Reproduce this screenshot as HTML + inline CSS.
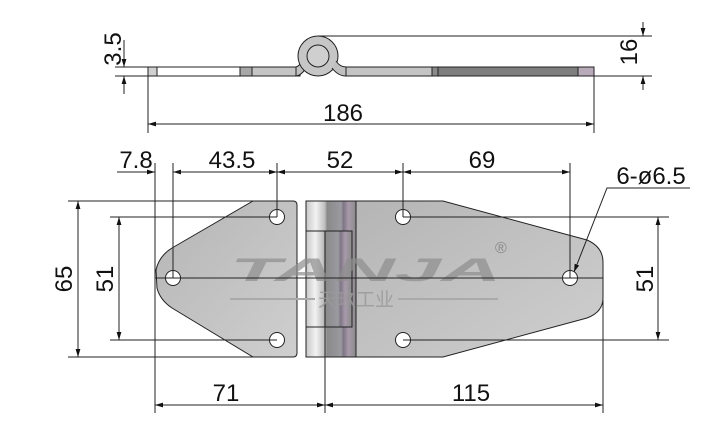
<!DOCTYPE html>
<html><head><meta charset="utf-8"><style>
html,body{margin:0;padding:0;background:#fff;width:711px;height:439px;overflow:hidden}
svg{display:block}
text{font-family:"Liberation Sans","Noto Sans CJK SC",sans-serif;fill:#111}
</style></head><body>
<svg width="711" height="439" viewBox="0 0 711 439" xmlns="http://www.w3.org/2000/svg">
<defs>
<marker id="a" viewBox="0 0 10 6" refX="10" refY="3" markerWidth="8" markerHeight="5" orient="auto-start-reverse"><path d="M0,0 L10,3 L0,6 z" fill="#111"/></marker>
<linearGradient id="pin" x1="0" x2="1" y1="0" y2="0">
<stop offset="0" stop-color="#c8c8c8"/><stop offset="0.2" stop-color="#f2f2f2"/><stop offset="0.38" stop-color="#bdbdbd"/><stop offset="0.42" stop-color="#8a8a8a"/><stop offset="0.7" stop-color="#9a9aa0"/><stop offset="0.75" stop-color="#7e7585"/><stop offset="0.85" stop-color="#a89aaa"/><stop offset="1" stop-color="#8a8a8a"/>
</linearGradient>
<linearGradient id="pl" x1="0" x2="1" y1="0" y2="1"><stop offset="0" stop-color="#b5b5b5"/><stop offset="1" stop-color="#cfcfcf"/></linearGradient>
</defs>
<g stroke="#222" stroke-width="1" fill="none">
<rect x="148" y="67" width="152" height="9" fill="#fff"/>
<rect x="148" y="67" width="9" height="9" fill="#d0d0d0"/>
<rect x="240" y="67" width="12" height="9" fill="#a8a8a8"/>
<rect x="252" y="67" width="44" height="9" fill="#c4c4c4"/>
<path d="M296,67 Q300,66 304,58 L308,64 Q303,75 296,76 z" fill="#c0c0c0"/>
<circle cx="318" cy="56" r="20" fill="#c6c6c6"/>
<circle cx="318" cy="56" r="11" fill="#cfcfcf"/>
<path d="M332,68 Q338,76 346,76 L346,67 Q340,67 336,61" fill="#c0c0c0"/>
<rect x="346" y="67" width="86" height="9" fill="#c4c4c4"/>
<rect x="432" y="67" width="6" height="9" fill="#8a8a8a"/>
<rect x="438" y="67" width="140" height="9" fill="#7e7e7e"/>
<rect x="578" y="67" width="16" height="9" fill="#b8aab8"/>
<line x1="115" y1="67" x2="148" y2="67"/><line x1="115" y1="76" x2="148" y2="76"/>
<line x1="124" y1="40" x2="124" y2="67" marker-end="url(#a)"/><line x1="124" y1="94" x2="124" y2="76" marker-end="url(#a)"/>
<line x1="318" y1="36" x2="652" y2="36"/><line x1="594" y1="76" x2="652" y2="76"/>
<line x1="643" y1="22" x2="643" y2="36" marker-end="url(#a)"/><line x1="643" y1="90" x2="643" y2="76" marker-end="url(#a)"/>
<line x1="148" y1="76" x2="148" y2="133"/><line x1="594" y1="76" x2="594" y2="133"/>
<line x1="148" y1="124" x2="594" y2="124" marker-start="url(#a)" marker-end="url(#a)"/>
<path d="M253,201 L293,201 Q297,201 297,205 L297,353 Q297,357 293,357 L253,357 L172,308 Q160,300 157,288 L156,270 Q159,256 172,248 Z" fill="url(#pl)"/>
<rect x="306" y="201" width="50" height="156" fill="url(#pin)"/>
<rect x="306" y="231" width="46" height="96" fill="url(#pin)"/>
<line x1="325" y1="231" x2="325" y2="327"/>
<path d="M356,201 L443,201 L587,240 Q603,247 603,262 L603,298 Q603,312 587,318 L443,357 L356,357 Z" fill="url(#pl)"/>
<g fill="#fff">
<circle cx="277" cy="217" r="7.5"/><circle cx="277" cy="340" r="7.5"/><circle cx="173" cy="278" r="7.5"/>
<circle cx="403" cy="217" r="7.5"/><circle cx="403" cy="340" r="7.5"/><circle cx="570" cy="278" r="7.5"/>
</g>
</g>
<text transform="translate(230,281) scale(2.6,1)" font-size="32" font-style="italic" font-weight="bold" opacity="0.7" style="fill:#8e8e8e">TANJA</text>
<text x="318" y="306" font-size="19" opacity="0.85" style="fill:#9a9a9a">天玖工业</text>
<line x1="230" y1="299" x2="315" y2="299" stroke="#aaa" stroke-width="2"/>
<line x1="398" y1="299" x2="498" y2="299" stroke="#aaa" stroke-width="2"/>
<text x="495" y="253" font-size="16" style="fill:#888">®</text>
<g stroke="#222" stroke-width="1" fill="none">
<line x1="155" y1="278" x2="603" y2="278"/>
<line x1="155" y1="163" x2="155" y2="413"/><line x1="173" y1="163" x2="173" y2="278"/>
<line x1="277" y1="163" x2="277" y2="217"/><line x1="403" y1="163" x2="403" y2="217"/>
<line x1="570" y1="163" x2="570" y2="278"/><line x1="325" y1="327" x2="325" y2="413"/>
<line x1="603" y1="300" x2="603" y2="413"/>
<line x1="117" y1="172" x2="155" y2="172" marker-end="url(#a)"/>
<line x1="190" y1="172" x2="173" y2="172" marker-end="url(#a)"/>
<line x1="173" y1="172" x2="277" y2="172" marker-end="url(#a)"/>
<line x1="277" y1="172" x2="403" y2="172" marker-start="url(#a)" marker-end="url(#a)"/>
<line x1="403" y1="172" x2="570" y2="172" marker-start="url(#a)" marker-end="url(#a)"/>
<line x1="155" y1="405" x2="325" y2="405" marker-start="url(#a)" marker-end="url(#a)"/>
<line x1="325" y1="405" x2="603" y2="405" marker-start="url(#a)" marker-end="url(#a)"/>
<line x1="68" y1="201" x2="253" y2="201"/><line x1="68" y1="357" x2="253" y2="357"/>
<line x1="110" y1="217" x2="277" y2="217"/><line x1="110" y1="340" x2="277" y2="340"/>
<line x1="403" y1="217" x2="669" y2="217"/><line x1="403" y1="340" x2="669" y2="340"/>
<line x1="78" y1="201" x2="78" y2="357" marker-start="url(#a)" marker-end="url(#a)"/>
<line x1="119" y1="217" x2="119" y2="340" marker-start="url(#a)" marker-end="url(#a)"/>
<line x1="658" y1="217" x2="658" y2="340" marker-start="url(#a)" marker-end="url(#a)"/>
<polyline points="690,188 607,188 574,272" marker-end="url(#a)"/>
</g>
<g font-size="24">
<text x="343" y="121" text-anchor="middle">186</text>
<text x="136" y="168" text-anchor="middle">7.8</text>
<text x="232" y="168" text-anchor="middle">43.5</text>
<text x="340" y="168" text-anchor="middle">52</text>
<text x="482" y="168" text-anchor="middle">69</text>
<text x="651" y="184" text-anchor="middle">6-ø6.5</text>
<text x="226" y="401" text-anchor="middle">71</text>
<text x="471" y="401" text-anchor="middle">115</text>
<text transform="translate(72,279) rotate(-90)" text-anchor="middle">65</text>
<text transform="translate(113,279) rotate(-90)" text-anchor="middle">51</text>
<text transform="translate(653,279) rotate(-90)" text-anchor="middle">51</text>
<text transform="translate(121,49) rotate(-90)" text-anchor="middle">3.5</text>
<text transform="translate(637,52) rotate(-90)" text-anchor="middle">16</text>
</g>
</svg>
</body></html>
